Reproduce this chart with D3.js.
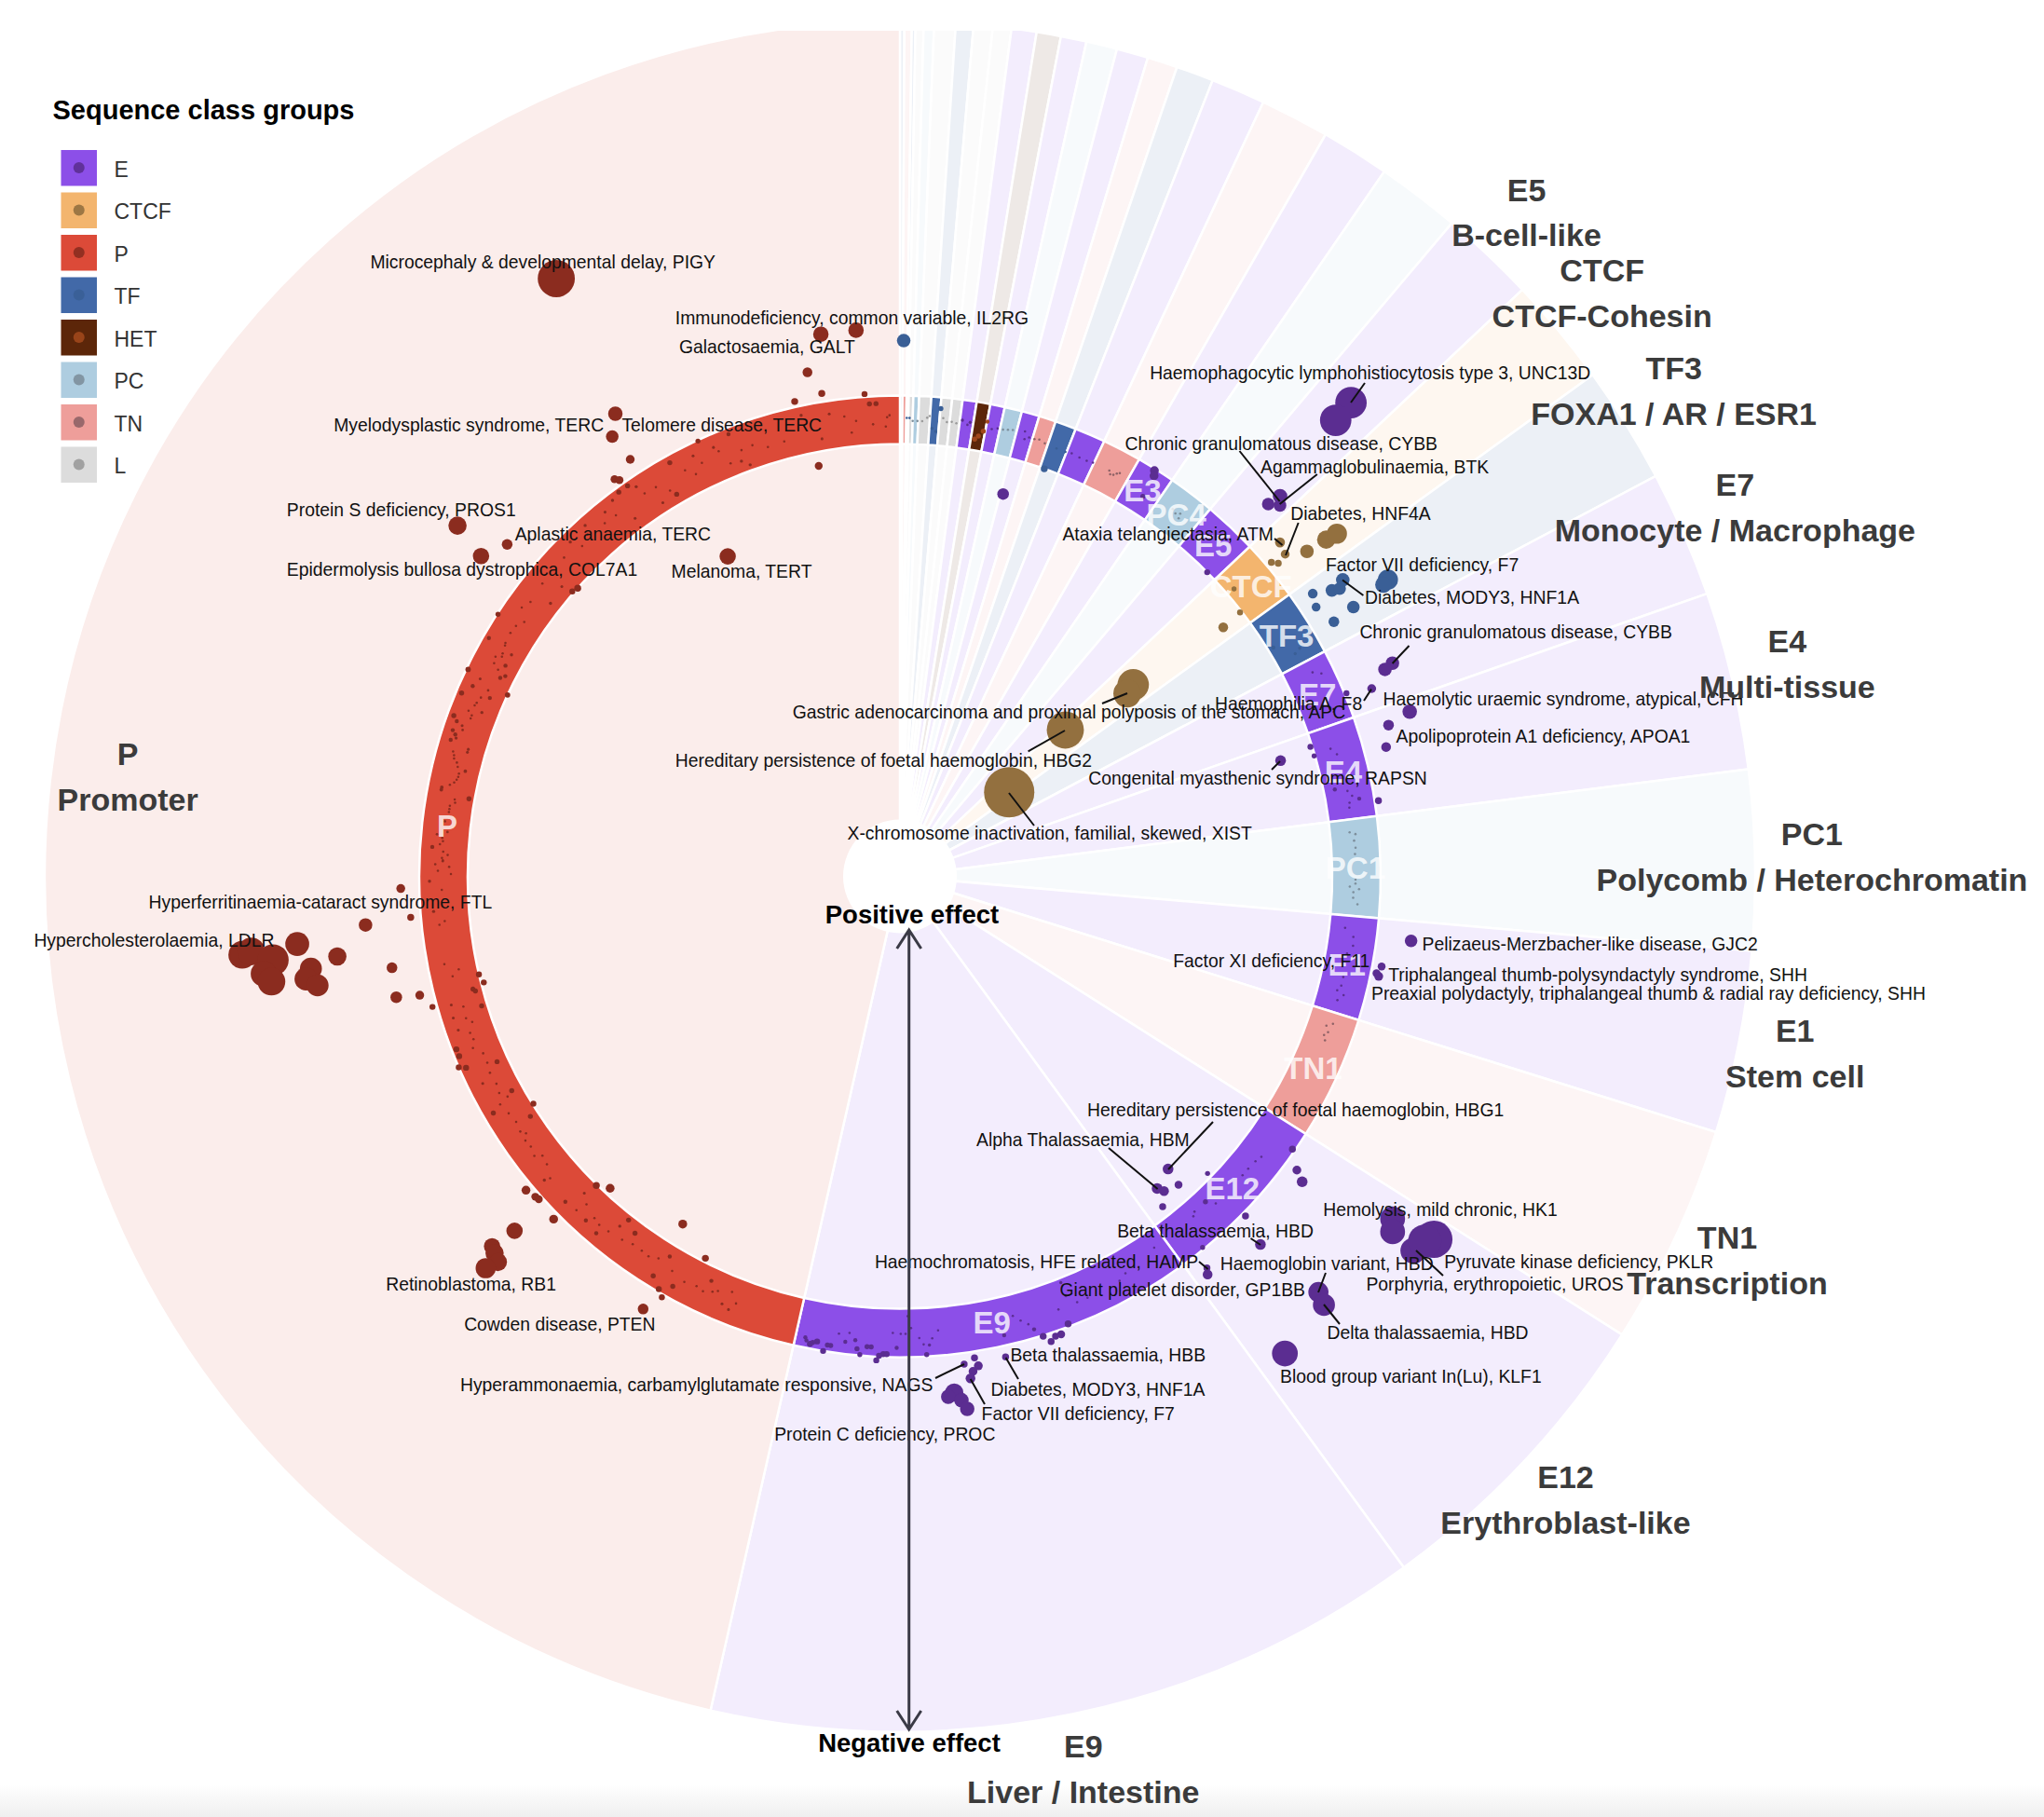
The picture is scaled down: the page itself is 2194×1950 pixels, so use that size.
<!DOCTYPE html>
<html><head><meta charset="utf-8">
<script src="https://cdn.jsdelivr.net/npm/d3@7"></script>
<style>html,body{margin:0;padding:0;background:#fff}svg{display:block}text{font-family:"Liberation Sans",Arial,sans-serif}</style>
</head><body><div id="chart"></div>
<script>
// ---------- data ----------
const groupNames = ["E","CTCF","P","TF","HET","PC","TN","L"];
const groupFills = ["#8c4fe8","#f3b56e","#dc4a38","#4269a8","#5c2609","#aecde0","#ee9e9a","#dcdcdc"];
const groupDots  = ["#5b2d91","#93703f","#8b2c1f","#3a5f96","#a0481c","#7d8f9c","#8f6266","#9a9a9a"];

const classNames = ["TFa","TNa","TFb","La","PCa","Lb","TFc","Lc","Ld","Ea","HET","Eb","PCb","Ec","TNb","TFd","Ed","TNc","E3","PC4","E5","CTCF","TF3","E7","E4","PC1","E1","TN1","E12","E9","P"];
const classGroups = ["TF","TN","TF","L","PC","L","TF","L","L","E","HET","E","PC","E","TN","TF","E","TN","E","PC","E","CTCF","TF","E","E","PC","E","TN","E","E","P"];
const classShares = [0.3,0.5,0.25,0.55,0.7,1.45,1.2,1.3,1.25,1.7,1.65,1.75,2.1,2.15,2.05,2.55,3.7,4.7,4.65,5.7,6.5,7.4,8,8.6,12.1,12.2,12.4,15,21.5,48.9,167.2];
const ringLabelled = ["E3","PC4","E5","CTCF","TF3","E7","E4","PC1","E1","TN1","E12","E9","P"];

const bigLabels = ["E5","CTCF","TF3","E7","E4","PC1","E1","TN1","E12","E9","P"];
const bigDescriptions = ["B-cell-like","CTCF-Cohesin","FOXA1 / AR / ESR1","Monocyte / Macrophage","Multi-tissue","Polycomb / Heterochromatin","Stem cell","Transcription","Erythroblast-like","Liver / Intestine","Promoter"];

// each dot: [angle in degrees clockwise from top, effect (positive towards centre), size]
const dotsP = [[330.1,-251,20],[351.7,-99,8.5],[355.4,-99,8.5],[349.6,-61,5.5],[350.8,-36,4],[355.8,-30,3.5],[347.5,-33,4],[328.4,-94,8],[326.8,-75,7],[327.1,-44,5],[348.8,40,4.5],[324.3,-36,4.5],[324.7,-32,4.5],[325.1,-22,3],[323.8,-22,3],[329.7,14,3],[308.4,-117,10],[310.2,-63,6],[307.4,-77,9],[331.7,99,9],[311.8,25,4],[311,23,3.5],[303.1,-26,3],[300.1,-21,2.5],[335.1,-26,3],[330.9,-19,3],[338.8,-20,2.5],
[268.6,-47,5],[265.2,-38,4],[264.8,-87,7.5],[263.6,-162,13],[261.9,-121,10],[259.8,-65,6],[263.2,-222,15],[263.4,-212,15],[262.4,-190,17],[261.3,-202,14],[260.5,-195,15],[261.1,-151,12],[260.2,-158,12.5],[259.4,-147,12],[256.5,-67,6.5],[256.1,-42,5],[254.4,-32,3.5],[256.9,25,3.5],[255.7,28,3.5],[255.2,15,3],[254.9,17,3],[252.8,19,3],[248.7,-22,3.5],[247.8,-22,3.5],[246.6,-27,3.5],[246.2,-20,3.5],[245.3,13,3],[241.1,13,3],[238.2,26,3.5],[237,16,3],[239.8,-16,3],[230,-35,5],[228.7,-32,4.5],[228.2,-31,4.5],[224.5,24,4],[222.9,32,5],[225.3,-34,5],[227.4,-73,9],[227.8,-102,9],[227.1,-105,10],[226.2,-109,10],[226.6,-123,11],[212,49,5],[218.3,19,3],[216.6,12,3],[207,29,4],[210.3,-24,3.5],[209.5,-30,3.5],[209,-14,3],[210.7,-51,6],[205,10,2.5],[211.7,-15,3],[218.7,8,2],[211.2,12,2.5],[220.4,-14,2.5],[222.4,-11,2.5],[225.8,-12,2.5],[229.5,-13,2],
[271.5,-10,1.5],[272,-2,1.5],[271.2,5,1.5],[270.3,7,1.5],[270.7,-7,1.5],[269.4,-16,2],[268.3,-3,1.5],[265.7,-13,2],[264.4,-2,1.5],[264,-8,1.5],[259.1,-9,1.5],[258.1,5,1.5],[257.4,-3,1.5],[254,-12,1.8],[253.4,0,1.5],[252.4,-14,1.8],[251.9,-1,1.5],[251.2,4,1.5],[250.8,-13,1.8],[250,-2,1.5],[249.1,-1,1.5],[248.1,-5,1.5],[247,3,1.5],[245.7,3,1.5],[244.4,1,1.5],[243.6,-11,1.8],[242.8,2,1.5],[241.6,0,1.5],[240.7,6,1.5],[240.3,-5,1.5],[238.8,-2,1.5],[237.4,0,1.5],[236.1,-2,1.5],[235.5,2,1.5],[234.8,-3,1.5],[233.8,-2,1.5],[232.6,-5,1.5],[232,2,1.5],[230.8,0,1.5],[229.2,-7,1.5],[224.1,-10,1.5],[224.9,9,1.8],[223.7,2,1.5],[221.8,-3,1.5],[220.8,-5,1.5],[219.4,-4,1.5],[217.4,-2,1.5],[216,1,1.5],[214.6,1,1.5],[213.5,0,1.5],[212.3,4,1.5],[210,0,1.5],[208,-4,1.5],[206.4,-2,1.5],[205.4,-4,1.5],[204.3,0,1.5],[203.7,3,1.5],[202.6,-8,1.8],[201.6,-11,1.8],[201,-2,1.5],[202,8,1.5],
[351.3,-13,1.8],[353.1,-8,1.5],[354.5,-2,1.5],[356.6,3,1.5],[358.2,6,1.5],[353.8,10,1.5],[349.9,12,1.8],[347.9,-17,2],[345.1,6,1.5],[342.9,7,1.5],[341.1,0,1.5],[339.6,1,1.5],[336.9,-7,1.5],[336.5,-13,1.8],[337.7,10,1.5],[339.1,12,2],[340,19,2],[334.4,-3,1.5],[333.8,-14,1.8],[332.1,-4,1.5],[333.1,5,1.5],[327.9,-4,1.5],[329.2,7,1.5],[326.3,-5,1.5],[325.9,-16,2],[327.6,14,1.8],[322.6,-19,2],[321,-14,1.8],[321.8,-4,1.5],[323.5,11,1.8],[320.1,-5,1.5],[318.1,-17,2],[315.4,-15,2],[316.1,-3,1.5],[317.6,-8,1.5],[313.5,-8,1.5],[310.6,11,1.8],[309.3,-7,1.5],[306.6,-5,1.5],[305.4,-9,1.5],[308,13,2],[304.1,2,1.5],[303.1,-3,1.5],[302,-4,1.5],[300.3,-2,1.5],[356.3,-19,3],[357.1,-19,3],[358.7,-6,1.5],[358.4,-4,1.5],
[295.6,-25,3.2],[292.7,-21,3],[294,-13,2.5],[295.2,-9,1.8],[294.3,4,1.6],[293.1,0,1.5],[293.5,9,2.5],[294.8,25,3.2],[296.9,14,2.5],[296.4,10,2.5],[298.1,9,2.5],[297.2,4,1.5],[297.7,-3,1.5],[298.5,-5,1.5],[298.9,1,1.5],[299.3,0,1.5],[299.7,9,2],[300.6,-3,1.5],[292.3,-2,1.5],[291.9,-3,1.5],[291,-7,1.5],[291.4,7,2],[290.6,-2,1.5],[290.2,-2,1.5],[289.8,-20,3],[289.3,-15,2.5],[289,-8,1.8],[288.5,-6,1.6],[288.1,-16,2.5],[287.7,-12,2.5],[287.3,-10,2],[286.9,-15,2.5],[286.4,6,1.8],[286,6,1.8],[285.6,-9,1.5],[285.2,-7,1.5],[284.8,-6,1.5],[284.4,-2,1.5],[283.9,0,1.5],[283.6,9,2.2],[283.1,3,1.5],[282.7,3,1.5],[282.3,2,1.5],[281.9,0,1.5],[281.5,-4,1.5],[281,-12,2.2],[280.7,-12,2.2],[280.2,19,3],[279.8,4,1.5],[279.4,5,1.5],[278.9,0,1.5],[278.5,0,1.5],[278.1,0,1.5],[276.9,-3,1.5],[275.6,1,1.6],[275.2,-10,1.6],[274.8,-4,1.5],[274.4,-3,1.5],[274,-6,1.5],[273.6,-14,2.5],[273.1,-2,1.5],[272.7,3,1.5],[272.3,-3,1.5],[271.9,-2,1.5]];

const dotsE = [[137.5,63,6],[140.5,55,6],[140,48,5.5],[137.9,43,4.5],[141.5,36,4],[134,30,3],[126.5,-41,5],[127.2,-53,6],[124.8,-24,4],[134.5,-31,4],[135.6,-64,6],[136.8,10,3],[140.8,-25,3],[141.9,-45,4],[142.3,-51,5.5],[124.8,-155,13.5],[125.8,-163,13.5],[124.2,-204,20],[126.1,-193,14],[124.8,-197,18],[134.8,-144,11],[135.3,-158,12],[141.1,-169,14],
[159.4,-24,4],[160.6,-32,4.5],[161.3,-32,4],[162.7,-28,4],[162,-36,4],[163.5,-18,2.5],[167.2,-16,2.5],[167.6,-39,4],[171.2,-34,4],[172.5,-39,4],[170.9,-43,5],[171.6,-48,5],[172,-55,5.5],[174,-68,10],[174.7,-72,8],[173.3,-77,8],[172.8,-87,8],[176.8,-25,3],[176.4,-15,2],[180.4,-17,2.5],[182,-24,3.5],[181.6,-24,3.5],[182.5,-26,3.5],[182.8,-31,3.5],[183.5,-17,3],[184,-17,3],[184.8,-26,3],[185.2,-20,3],[186.7,-14,2.5],[185.5,-11,2.5],[189.2,-27,3.5],[188.4,-20,3],[188.8,-20,3],[190.1,-18,3.5],[190.6,-20,3],[190.9,-22,3.5],[191.6,-16,2.5],[191.4,-19,2.5],
[165.6,2,1.5],[164.8,-5,1.5],[164,-11,1.5],[179,17,1.5],[178.6,4,1.5],[177.6,-7,1.5],[177.1,-14,1.5],[176,-8,1.5],[175.2,0,1.5],[180.9,-1,1.5],[179.9,-2,1.5],[179.3,-2,1.5],[187.6,-6,1.5],[186.3,-4,1.5],
[127.8,-2,1.5],[128.7,0,1.5],[130,1,1.5],[131.1,1,1.5],[136,1,1.5],[138.7,10,1.5],[139.2,7,1.5],[145.6,6,1.5],[150.4,-1,1.5],[151.5,-5,1.5],[156,-6,1.5],[157.4,-6,1.5],[159.9,-6,1.5],[158.4,5,2],[158.4,20,2],
[97.2,-64,7],[100.6,-37,4.5],[101.8,-36,5],[101.5,-33,4.5],[96.6,8,1.5],[97.6,-2,1.5],[98.7,-3,1.5],[99.8,2,1.5],[102.8,1,1.5],[103.9,1,1.5],[104.6,4,1.5],[105,-4,1.5],[105.8,1,1.5],
[73.1,62,6],[81,-31,4],[72.5,27,3.5],[73.8,26,3],[78.7,13,2.5],[73.5,7,1.5],[74.4,2,1.5],[79.2,0,1.5],[79.9,-4,1.5],[80.4,-11,2.5],[80.7,0,1.5],[81.3,1,1.5],
[72.1,-86,8],[72.8,-60,6],[75.1,-51,5.5],[66.6,-87,7.5],[66.9,-77,7.5],[68.3,-56,5],[67.7,-29,3.5],[63.7,-5,1.5],[64.3,-13,1.5],
[43.6,-213,17],[43.7,-188,17],[45,-88,8],[45.7,-81,7],[44.7,-73,7],[45.3,25,3.5],[32.1,-25,5],[32.4,-20,5],[32.6,5,3],[15.1,64,6.5],
[7.8,-5,2],[8.5,-1,1.5],[8.8,-4,2],[11.6,-1,1.5],[12.3,-3,1.5],[15.7,-7,1.5],[15.9,1,1.5],[16.4,-2,1.5],[22.1,-1,1.5],[23.2,0,1.5],[24.2,0,1.5],[25,-1,1.5]];

const dotsCTCF = [[48.7,-54,5.6],[50.1,-50,5],[51.4,-70,7.5],[51.7,-94,10],[51.9,-107,11],[49.8,-33,4],[50.4,-38,4],[49.3,16,3],[52.2,27,3.5],[52.4,51,5.5],[50.6,165,17],[51.2,176,15],[48.5,252,20],[52.4,341,27]];

const dotsTF = [[55.6,-48,5.5],[57.1,-43,5],[59.3,-77,7],[59.6,-51,6],[56.5,-67,7],[56.8,-75,7],[56.2,-83,7.5],[58.7,-124,11],[58.9,-117,9],[58.5,19,2.5],[60.6,2,2],[60.3,-5,2],[0.4,-86,7.5],[5,-15,3],[19.5,25,4],[4.1,7,2],[4.6,10,2],[0.85,-3,1.5],[1.2,-3,1.5],[20.1,0,1.5],[21.3,0,1.5]];

const dotsHET = [[10.9,-8,2.5],[10.6,3,3],[10.1,9,3],[9.7,13,3]];
const dotsPC = [[1.6,0,1.5],[2.2,0,1.5],[13,-3,1.5],[13.6,-4,1.5],[14.2,-5,1.5],[37.2,0,1.5],[37.7,-3,1.5],[36.6,-2,1.5],[37.9,2,1.5],[84.4,4,1.5],[84.7,-2,1.5],[85.5,0,1.5],[86.4,-1,1.5],[87.2,0,1.5],[90.4,0,1.5],[90.9,0,1.5],[91.3,6,1.5],[91.6,-4,1.5],[92,2,1.5],[92.7,2,1.5],[93.5,-3,1.5]];
const dotsTN = [[17.1,-2,1.5],[17.7,-3,1.5],[18.5,-1,1.5],[27.3,-1,1.5],[28,1,1.5],[28.6,-4,1.5],[27.6,2,1.5],[28.3,-2,1.5],[109.3,4,1.5],[110,0,1.5],[111.1,0,1.5],[108.8,-2,1.5],[110.5,3,1.5]];
const dotsL = [[2.8,0,1.5],[3.4,-4,1.5],[3.7,-6,1.5],[5.4,-5,1.5],[5.9,-1,1.5],[6.5,-2,1.5],[7.1,-1,1.5]];
const dotSeries = {E:dotsE,CTCF:dotsCTCF,P:dotsP,TF:dotsTF,HET:dotsHET,PC:dotsPC,TN:dotsTN,L:dotsL};

// ---------- layout (annotations are placed by hand, in pixels of the 1568-wide view) ----------
const annotationText = ["Microcephaly & developmental delay, PIGY","Immunodeficiency, common variable, IL2RG","Galactosaemia, GALT","Myelodysplastic syndrome, TERC","Telomere disease, TERC","Protein S deficiency, PROS1","Aplastic anaemia, TERC","Epidermolysis bullosa dystrophica, COL7A1","Melanoma, TERT","Hyperferritinaemia-cataract syndrome, FTL","Hypercholesterolaemia, LDLR","Retinoblastoma, RB1","Cowden disease, PTEN","Haemophagocytic lymphohistiocytosis type 3, UNC13D","Chronic granulomatous disease, CYBB","Agammaglobulinaemia, BTK","Diabetes, HNF4A","Ataxia telangiectasia, ATM","Factor VII deficiency, F7","Diabetes, MODY3, HNF1A","Chronic granulomatous disease, CYBB","Haemophilia A, F8","Haemolytic uraemic syndrome, atypical, CFH","Apolipoprotein A1 deficiency, APOA1","Gastric adenocarcinoma and proximal polyposis of the stomach, APC","Hereditary persistence of foetal haemoglobin, HBG2","Congenital myasthenic syndrome, RAPSN","X-chromosome inactivation, familial, skewed, XIST","Pelizaeus-Merzbacher-like disease, GJC2","Factor XI deficiency, F11","Triphalangeal thumb-polysyndactyly syndrome, SHH","Preaxial polydactyly, triphalangeal thumb & radial ray deficiency, SHH","Hereditary persistence of foetal haemoglobin, HBG1","Alpha Thalassaemia, HBM","Hemolysis, mild chronic, HK1","Beta thalassaemia, HBD","Haemochromatosis, HFE related, HAMP","Haemoglobin variant, HBD","Pyruvate kinase deficiency, PKLR","Porphyria, erythropoietic, UROS","Giant platelet disorder, GP1BB","Delta thalassaemia, HBD","Blood group variant In(Lu), KLF1","Beta thalassaemia, HBB","Hyperammonaemia, carbamylglutamate responsive, NAGS","Diabetes, MODY3, HNF1A","Factor VII deficiency, F7","Protein C deficiency, PROC"];
const annotationPos = [[284,201],[518,244],[521,266],[256,326],[477,326],[220,391],[395,410],[220,437],[515,438],[114,692],[26,721],[296,985],[356,1016],[882,286],[863,340],[967,358],[990,394],[815,410],[1017,433],[1047,458],[1043,485],[932,540],[1061,536],[1071,565],[608,546],[518,583],[835,597],[650,639],[1091,724],[900,737],[1065,748],[1052,762],[834,851],[749,874],[1015,928],[857,944],[671,968],[936,969],[1108,968],[1048,985],[813,989],[1018,1022],[982,1056],[775,1039],[353,1062],[760,1066],[753,1084],[594,1100]];
const leaderLines = [[1465,411,1450,432],[1330.5,484,1373.6,538],[1413.8,509,1373.6,541],[1393.7,561,1380,596],[1368,578,1376.5,585],[1441,622.5,1463.4,639],[1512.5,693,1494.6,712],[1472,739.6,1464,752],[1210,744,1183,755],[1143,784,1103.6,806.4],[1083,851,1110,886],[1374,817,1365,826],[1302,1204,1254,1255],[1190,1232,1242.6,1276],[1342.5,1329,1353,1336],[1287,1354,1296.6,1362],[1423,1366,1415,1387],[1520,1342,1549,1369],[1421,1400,1438,1421],[1004,1479,1035,1464],[1079.6,1457,1093,1480],[1041.7,1480,1057,1507]];
const bigPos = [[1171,146],[1229,208],[1284,283],[1331,372],[1371,492],[1390,640],[1377,791],[1325,950],[1201,1133],[831,1340],[98,579]];

// ---------- drawing ----------
const W=2194,H=1950,cx=966,cy=940.5,k=W/1568;
const svg=d3.select("#chart").append("svg").attr("width",W).attr("height",H).attr("viewBox",[0,0,W,H]);
const defs=svg.append("defs");
const lg=defs.append("linearGradient").attr("id","fade").attr("x1",0).attr("x2",0).attr("y1",0).attr("y2",1);
lg.append("stop").attr("offset",0).attr("stop-color","#fff");
lg.append("stop").attr("offset",1).attr("stop-color","#efefef");
svg.append("rect").attr("width",W).attr("height",H).attr("fill","#fff");
svg.append("rect").attr("y",1915).attr("width",W).attr("height",35).attr("fill","url(#fade)");

const fill=d3.scaleOrdinal(groupNames,groupFills), dotFill=d3.scaleOrdinal(groupNames,groupDots);
const cum=d3.cumsum(classShares), total=cum[cum.length-1];
const theta=d3.scaleLinear().domain([0,total]).range([0,2*Math.PI]);
const angle=d3.scaleLinear().domain([0,360]).range([0,2*Math.PI]);
const radius=d3.scaleLinear().domain([429,-429]).range([60,918]);
const sizeScale=d3.scaleLinear().domain([0,2,27]).range([0,1.7,27]);
const classes=classNames.map((n,i)=>({name:n,group:classGroups[i],start:theta(i?cum[i-1]:0),end:theta(cum[i])}));

const plot=svg.append("g").attr("transform",`translate(${cx},${cy})`);
defs.append("clipPath").attr("id","topClipLocal").append("rect").attr("x",-cx).attr("y",33-cy).attr("width",W).attr("height",H);
const wedgeLayer=plot.append("g").attr("clip-path","url(#topClipLocal)");
const wedge=d3.arc().innerRadius(0).outerRadius(radius(-429));
wedgeLayer.selectAll("path").data(classes).join("path")
 .attr("d",d=>wedge({startAngle:d.start,endAngle:d.end}))
 .attr("fill",d=>fill(d.group)).attr("fill-opacity",0.1).attr("stroke","#fff").attr("stroke-width",2.5);
const ringArc=d3.arc().innerRadius(radius(25)).outerRadius(radius(-27));
plot.append("g").selectAll("path").data(classes).join("path")
 .attr("d",d=>ringArc({startAngle:d.start,endAngle:d.end}))
 .attr("fill",d=>fill(d.group)).attr("stroke","#fff").attr("stroke-width",2.5);

const dotLayer=plot.append("g");
groupNames.forEach(g=>{
  dotLayer.append("g").selectAll("circle").data(dotSeries[g]).join("circle")
   .attr("cx",d=>d3.pointRadial(angle(d[0]),radius(d[1]))[0])
   .attr("cy",d=>d3.pointRadial(angle(d[0]),radius(d[1]))[1])
   .attr("r",d=>sizeScale(d[2])).attr("fill",dotFill(g));
});
plot.append("circle").attr("r",61).attr("fill","#fff");

// ring labels
plot.append("g").selectAll("text").data(classes.filter(c=>ringLabelled.includes(c.name))).join("text")
 .attr("x",d=>d3.pointRadial((d.start+d.end)/2,radius(0))[0])
 .attr("y",d=>d3.pointRadial((d.start+d.end)/2,radius(0))[1])
 .attr("dy","0.36em").attr("text-anchor","middle").attr("font-size",33).attr("font-weight","bold")
 .attr("fill","#fff").attr("fill-opacity",0.8).text(d=>d.name);

// leaders
svg.append("g").selectAll("line").data(leaderLines).join("line")
 .attr("x1",d=>d[0]).attr("y1",d=>d[1]).attr("x2",d=>d[2]).attr("y2",d=>d[3])
 .attr("stroke","#111").attr("stroke-width",2);
// annotations
svg.append("g").selectAll("text").data(annotationText).join("text")
 .attr("x",(d,i)=>annotationPos[i][0]*k).attr("y",(d,i)=>annotationPos[i][1]*k).attr("dy","0.35em")
 .attr("font-size",19.35).attr("fill","#111").text(d=>d);

// big labels
const big=svg.append("g").attr("font-weight","bold").attr("fill","#3b3b3b").attr("font-size",34).attr("text-anchor","middle");
bigLabels.forEach((t,i)=>{
  big.append("text").attr("x",bigPos[i][0]*k).attr("y",bigPos[i][1]*k).attr("dy","0.33em").text(t);
  big.append("text").attr("x",bigPos[i][0]*k).attr("y",(bigPos[i][1]+35)*k).attr("dy","0.33em").text(bigDescriptions[i]);
});

// effect arrow
const ax=975.7, ay0=998, ay1=1856;
svg.append("path").attr("d",`M${ax-13},${ay0+20}L${ax},${ay0}L${ax+13},${ay0+20}M${ax},${ay0}L${ax},${ay1}M${ax-13},${ay1-20}L${ax},${ay1}L${ax+13},${ay1-20}`)
 .attr("fill","none").attr("stroke","#3a3a46").attr("stroke-width",3);
svg.append("text").attr("x",979).attr("y",991).attr("text-anchor","middle").attr("font-size",27.5).attr("font-weight","bold").attr("fill","#000").text("Positive effect");
svg.append("text").attr("x",976).attr("y",1880).attr("text-anchor","middle").attr("font-size",27.5).attr("font-weight","bold").attr("fill","#000").text("Negative effect");

// legend
const lgd=svg.append("g");
lgd.append("text").attr("x",56.5).attr("y",128).attr("font-size",29).attr("font-weight","bold").attr("fill","#000").text("Sequence class groups");
const row=d3.scaleLinear().domain([0,1]).range([161,206.5]);
const items=lgd.selectAll("g").data(groupNames).join("g").attr("transform",(d,i)=>`translate(65.5,${row(i)})`);
items.append("rect").attr("width",38.5).attr("height",38.5).attr("fill",d=>fill(d));
items.append("circle").attr("cx",19.25).attr("cy",19).attr("r",6).attr("fill",d=>d3.color(dotFill(d)).copy({opacity:0.9}));
items.append("text").attr("x",57).attr("y",28.5).attr("font-size",23).attr("fill","#333").text(d=>d);
</script></body></html>
